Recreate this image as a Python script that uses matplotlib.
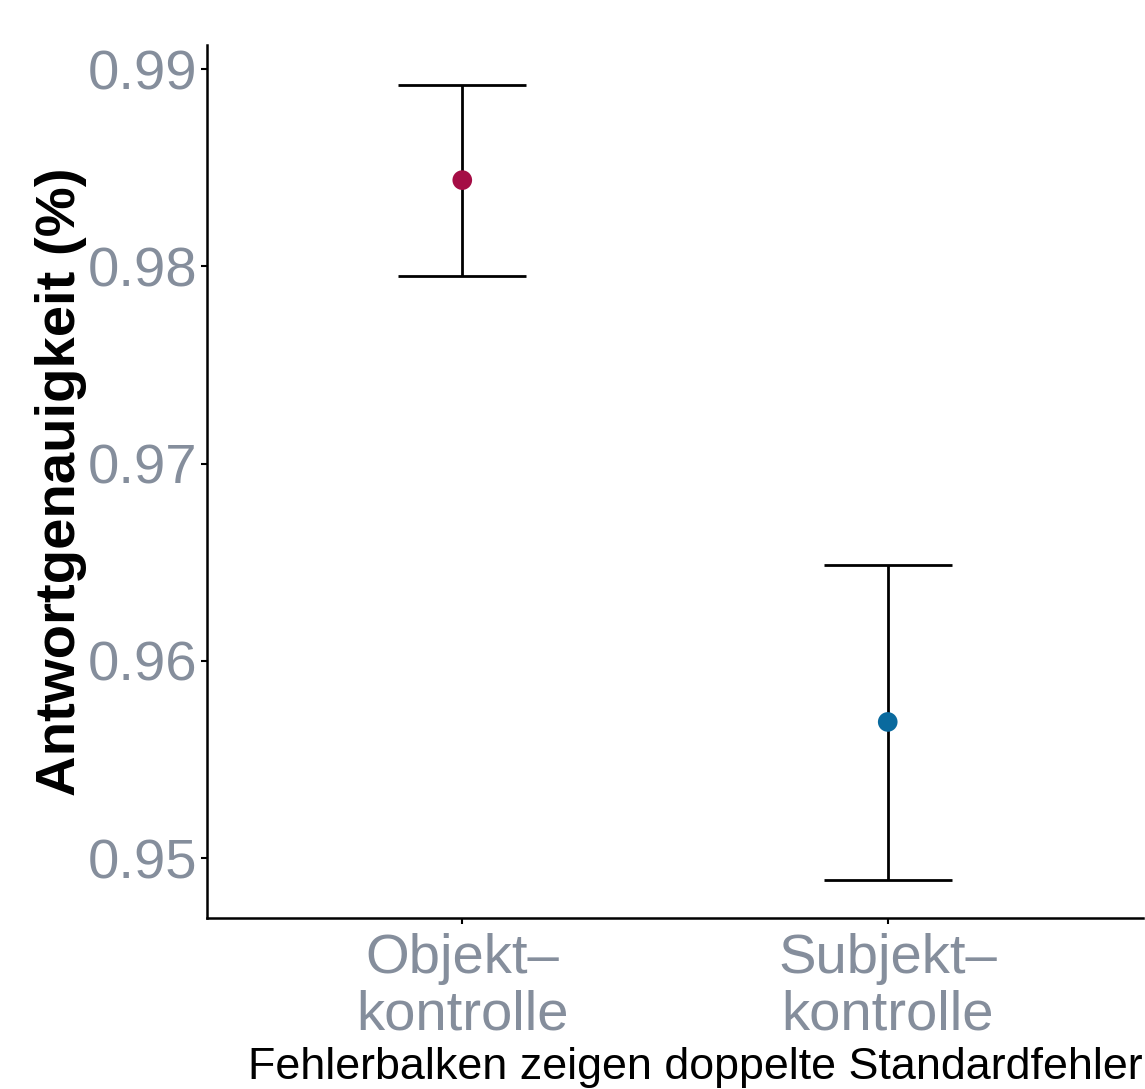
import matplotlib.pyplot as plt
import numpy as np

plt.rcParams['font.family'] = ['Liberation Sans', 'DejaVu Sans']

categories = ['Objekt–\nkontrolle', 'Subjekt–\nkontrolle']
means = [0.98437, 0.95690]
upper = [0.98919, 0.96485]
lower = [0.97951, 0.94889]
colors = ['#A50D45', '#0A6A9E']

fig = plt.figure(figsize=(11.45, 10.89), dpi=100)
ax = fig.add_axes([207 / 1145, 1 - 918 / 1089, 936 / 1145, 873 / 1089])

x = np.arange(1, len(categories) + 1)
for xi, m, lo, hi, c in zip(x, means, lower, upper, colors):
    ax.errorbar(xi, m, yerr=[[m - lo], [hi - m]], fmt='none', ecolor='black',
                elinewidth=2, capsize=0, zorder=1)
    ax.hlines([lo, hi], xi - 0.15, xi + 0.15, color='black', lw=2, zorder=1)
    ax.scatter(xi, m, s=200, color=c, zorder=2, edgecolors='none')

ax.set_xlim(0.4, 2.6)
ax.set_ylim(0.94696, 0.99122)
ax.set_yticks([0.95, 0.96, 0.97, 0.98, 0.99])
ax.set_yticklabels(['0.95', '0.96', '0.97', '0.98', '0.99'])
ax.set_xticks(x)
ax.set_xticklabels(categories, linespacing=1.1)

ax.tick_params(axis='both', colors='black', length=4.3, width=1.5, labelsize=40.5,
               labelcolor='#858E9C')
ax.tick_params(axis='x', pad=6.7)
ax.tick_params(axis='y', pad=2.5)
for s in ['top', 'right']:
    ax.spines[s].set_visible(False)
for s in ['left', 'bottom']:
    ax.spines[s].set_linewidth(1.8)

ax.set_ylabel('Antwortgenauigkeit (%)', fontsize=40.5, fontweight='bold', labelpad=0.7)
fig.text(1143 / 1145, 1 - 1068 / 1089, 'Fehlerbalken zeigen doppelte Standardfehler',
         ha='right', va='center', fontsize=32.3)

fig.savefig('out.png', dpi=100)
